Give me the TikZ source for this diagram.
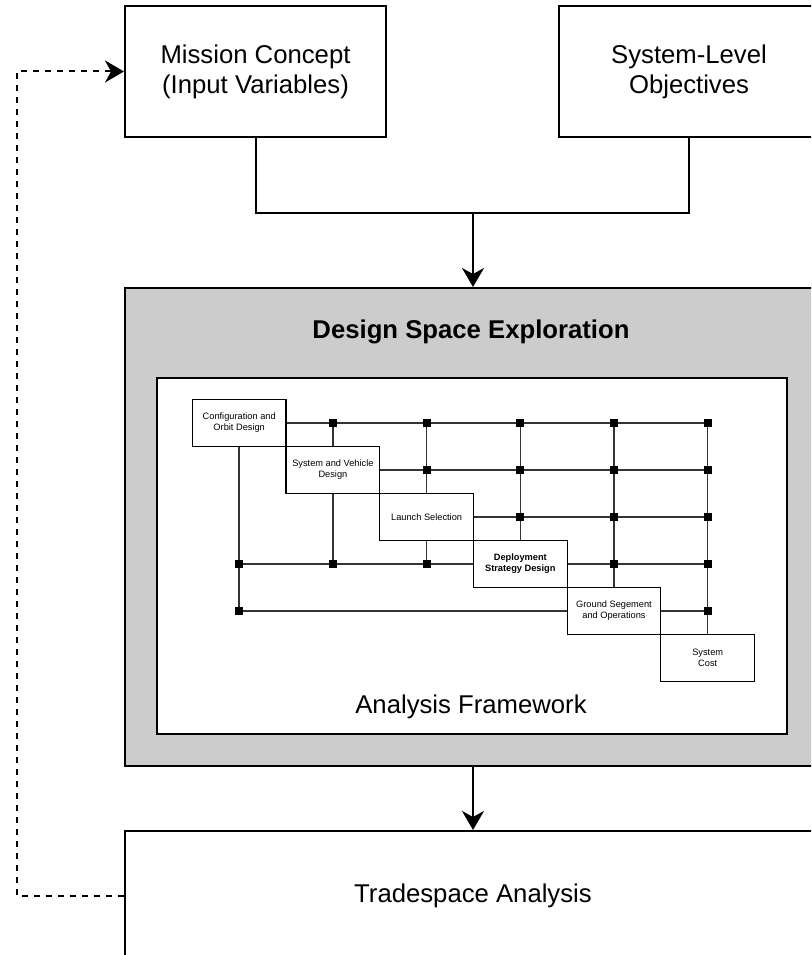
\documentclass[tikz,border=0pt]{standalone}
\usepackage{fontspec}
\setmainfont{Liberation Sans}
\usepackage{tikz}
\usetikzlibrary{arrows.meta}
\newcommand{\bigtxt}{\fontsize{25.7}{30}\selectfont}
\newcommand{\ntxt}{\fontsize{9.25}{11}\selectfont}

\begin{document}
\begin{tikzpicture}[
    x=1pt, y=-1pt,
    block/.style={draw, line width=2pt, inner sep=0pt, align=center, font=\bigtxt},
    arr/.style={-{Stealth[length=19pt, width=22pt, inset=6pt]}, line width=2pt},
    fb/.style={arr, dash pattern=on 6pt off 6pt},
    nbox/.style={draw, line width=1.2pt, fill=white, inner sep=0pt, align=center,
      minimum width=93.7pt, minimum height=47pt, font=\ntxt},
    grid/.style={line width=1.5pt, black!80},
    sq/.style={fill=black, inner sep=0pt, minimum size=8pt},
    ]
    \path[use as bounding box, clip] (0,0) rectangle (811,955);
    % inputs
    \node[block, minimum width=261pt, minimum height=130pt] (mission) at (255.5,71.5)
    {Mission Concept\\(Input Variables)};
    \node[block, minimum width=260pt, minimum height=130pt] (objectives) at (689,71.5)
    {System-Level\\Objectives};
    % exploration
    \node[block, fill=black!20, minimum width=696pt, minimum height=478pt] (design) at (473,527) {};
    \node[block, fill=white, minimum width=630pt, minimum height=356pt] (frame) at (472,555.5) {};
    \node[font=\bigtxt\bfseries, anchor=base] (dsetitle) at (471,338) {Design Space Exploration};
    \node[font=\bigtxt, anchor=base] (frametitle) at (471,713) {Analysis Framework};
    % N2 chart
    \node[nbox] (b0) at (239.2,422.8) {Configuration and\\Orbit Design};
    \node[nbox] (b1) at (332.9,469.8) {System and Vehicle\\Design};
    \node[nbox] (b2) at (426.6,516.8) {Launch Selection};
    \node[nbox, font=\ntxt\bfseries] (b3) at (520.3,563.8) {Deployment\\Strategy Design};
    \node[nbox] (b4) at (614.0,610.8) {Ground Segement\\and Operations};
    \node[nbox] (b5) at (707.7,657.8) {System\\Cost};
    \draw[grid] (b0.east) -- (b0 -| b5);
    \draw[grid] (b1.east) -- (b1 -| b5);
    \draw[grid] (b2.east) -- (b2 -| b5);
    \draw[grid] (b3 -| b0) -- (b3.west) (b3.east) -- (b3 -| b5);
    \draw[grid] (b4 -| b0) -- (b4.west) (b4.east) -- (b4 -| b5);
    \draw[grid] (b0.south) -- (b4 -| b0);
    \draw[grid] (b0 -| b1) -- (b1.north) (b1.south) -- (b3 -| b1);
    \draw[grid] (b0 -| b2) -- (b2.north) (b2.south) -- (b3 -| b2);
    \draw[grid] (b0 -| b3) -- (b3.north);
    \draw[grid] (b0 -| b4) -- (b4.north);
    \draw[grid] (b0 -| b5) -- (b5.north);
    \foreach \i/\j in {0/1,0/2,0/3,0/4,0/5,1/2,1/3,1/4,1/5,2/3,2/4,2/5,3/4,3/5,4/5,3/0,3/1,3/2,4/0}
      \node[sq] (s\i\j) at (b\j |- b\i) {};
    % results
    \node[block, minimum width=696pt, minimum height=130pt] (trade) at (473,896)
    {Tradespace Analysis};
    \coordinate (join) at (473,212.7);
    \coordinate (loop) at (16.7,0);
    \draw[line width=2pt] (mission.south) |- (join) -| (objectives.south);
    \draw[arr] (join) -- (design.north);
    \draw[arr] (design.south) -- (trade.north);
    \draw[fb] (trade.west) -- (trade.west -| loop) -- (mission.west -| loop) -- (mission.west);
  \end{tikzpicture}
\end{document}
